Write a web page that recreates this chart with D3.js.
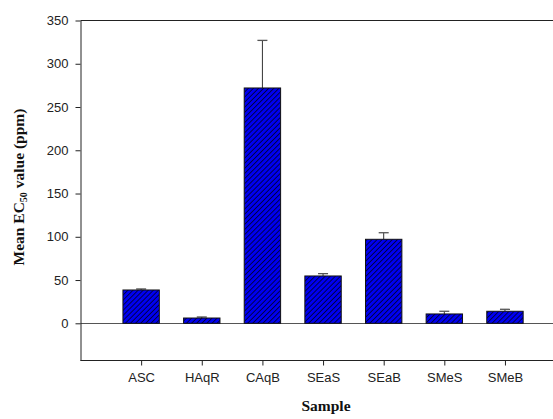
<!DOCTYPE html>
<html>
<head>
<meta charset="utf-8">
<script src="https://cdn.jsdelivr.net/npm/d3@7"></script>
<style>
  body { margin: 0; background: #fff; }
</style>
</head>
<body>
<div id="chart-area"></div>
<script>
var samples = ["ASC", "HAqR", "CAqB", "SEaS", "SEaB", "SMeS", "SMeB"];
var means = [38.5, 6.1, 272, 54.7, 97.1, 10.8, 13.9];
var errors = [1.2, 1.2, 55, 2.7, 7.6, 3.1, 2.3];
var yTicks = [0, 50, 100, 150, 200, 250, 300, 350];

var width = 553;
var height = 419;
var plotLeft = 80.5, plotTop = 20.5, plotBottom = 360.5, plotRight = 565.6;

var svg = d3.select("#chart-area").append("svg")
    .attr("width", width)
    .attr("height", height);

var defs = svg.append("defs");
var pat = defs.append("pattern")
    .attr("id", "hatch")
    .attr("patternUnits", "userSpaceOnUse")
    .attr("width", 3.6)
    .attr("height", 3.6)
    .attr("patternTransform", "rotate(45)");
pat.append("rect")
    .attr("width", 3.6).attr("height", 3.6)
    .attr("fill", "#0000f0");
pat.append("line")
    .attr("x1", 0).attr("y1", 0).attr("x2", 0).attr("y2", 3.6)
    .attr("stroke", "#000").attr("stroke-width", 1.3);

var x = d3.scalePoint()
    .domain(samples)
    .range([plotLeft, plotRight])
    .padding(1);

var barW = x.step() * 0.6;

var y = d3.scaleLinear()
    .domain([-43, 350])
    .range([plotBottom, plotTop]);

// top frame line and zero line
svg.append("line")
    .attr("x1", plotLeft).attr("x2", width)
    .attr("y1", plotTop).attr("y2", plotTop)
    .attr("stroke", "#222");
svg.append("line")
    .attr("x1", plotLeft).attr("x2", width)
    .attr("y1", Math.round(y(0)) + 0.5).attr("y2", Math.round(y(0)) + 0.5)
    .attr("stroke", "#555");

// error bars (upper only)
var errG = svg.append("g");
samples.forEach(function(s, i) {
    var cx = x(s);
    errG.append("line")
        .attr("x1", cx).attr("x2", cx)
        .attr("y1", y(means[i])).attr("y2", y(means[i] + errors[i]))
        .attr("stroke", "#333");
    errG.append("line")
        .attr("x1", cx - 5).attr("x2", cx + 5)
        .attr("y1", y(means[i] + errors[i])).attr("y2", y(means[i] + errors[i]))
        .attr("stroke", "#555").attr("stroke-width", 1.3);
});

svg.selectAll("rect.bar")
    .data(samples)
    .enter()
    .append("rect")
        .attr("class", "bar")
        .attr("x", (d) => { return x(d) - barW / 2; })
        .attr("y", (d, i) => { return y(means[i]); })
        .attr("width", barW)
        .attr("height", (d, i) => { return y(0) - y(means[i]); })
        .attr("fill", "url(#hatch)")
        .attr("stroke", "#111")
        .attr("stroke-width", 1);

var yAxis = svg.append("g")
    .attr("transform", "translate(" + plotLeft + ",0)")
    .call(d3.axisLeft(y).tickValues(yTicks).tickSize(5).tickPadding(7).tickSizeOuter(0));

var xAxis = svg.append("g")
    .attr("transform", "translate(0," + plotBottom + ")")
    .call(d3.axisBottom(x).tickSize(5).tickPadding(7).tickSizeOuter(0));

[yAxis, xAxis].forEach(function(a) {
    a.select(".domain").attr("stroke", "#222");
    a.selectAll(".tick line").attr("stroke", "#222");
    a.selectAll(".tick text")
        .attr("fill", "#222")
        .attr("font-family", "Liberation Sans, Arial, sans-serif")
        .attr("font-size", "13px");
});
// extend x-axis line to the edge
xAxis.select(".domain").attr("d", "M" + plotLeft + ",0H" + width);

var yLabel = svg.append("text")
    .attr("transform", "translate(24,187) rotate(-90)")
    .attr("text-anchor", "middle")
    .attr("font-family", "Liberation Serif, Times New Roman, serif")
    .attr("font-weight", "bold")
    .attr("font-size", "15.5px")
    .attr("fill", "#111");
yLabel.append("tspan").text("Mean EC");
yLabel.append("tspan").attr("font-size", "10px").attr("dy", 3).text("50");
yLabel.append("tspan").attr("dy", -3).text(" value (ppm)");

svg.append("text")
    .attr("x", 326)
    .attr("y", 411)
    .attr("text-anchor", "middle")
    .attr("font-family", "Liberation Serif, Times New Roman, serif")
    .attr("font-weight", "bold")
    .attr("font-size", "15.5px")
    .attr("fill", "#111")
    .text("Sample");
</script>
</body>
</html>
